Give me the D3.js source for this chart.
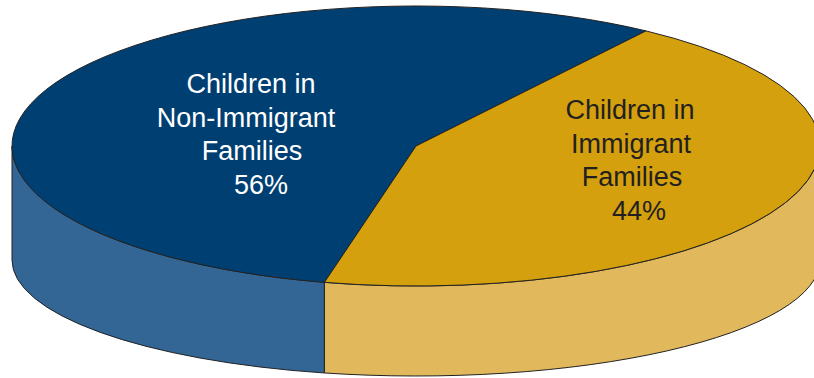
<!DOCTYPE html>
<html>
<head>
<meta charset="utf-8">
<script src="https://cdn.jsdelivr.net/npm/d3@7"></script>
<style>
  html, body { margin: 0; padding: 0; background: #fff; }
  svg { display: block; }
  text { font-family: "Liberation Sans", Arial, sans-serif; }
</style>
</head>
<body>
<svg id="chart" width="814" height="378"></svg>
<script>
// ---- data ----
const categories = ["Children in Non-Immigrant Families", "Children in Immigrant Families"];
const values = [56, 44];
const labelLines = [
  ["Children in", "Non-Immigrant", "Families", "56%"],
  ["Children in", "Immigrant", "Families", "44%"]
];
const topColors = ["#003F72", "#D4A00E"];
const sideColors = ["#336695", "#E2B85C"];

// ---- geometry ----
const W = 814, H = 378;
const cx = 416, cy = 146, rx = 404, ry = 140;   // top face
const cy2 = 260, ry2 = 116;                     // bottom face (perspective)
const deg = Math.PI / 180;
const firstSliceEnd = 34.7 * deg;               // boundary on the right-back

const total = d3.sum(values);
const pie = d3.pie().sort(null)
  .startAngle(firstSliceEnd - values[0] / total * 2 * Math.PI)
  .endAngle(firstSliceEnd - values[0] / total * 2 * Math.PI + 2 * Math.PI);
const arcs = pie(values);

const topPt = a => [cx + rx * Math.sin(a), cy - ry * Math.cos(a)];
const botPt = a => [cx + rx * Math.sin(a), cy2 - ry2 * Math.cos(a)];

const svg = d3.select("#chart");

// side walls (visible front half: d3 angles pi/2 .. 3pi/2, modulo 2pi)
function visibleRanges(a0, a1) {
  const out = [];
  for (let k = -2; k <= 2; k++) {
    const s = Math.max(a0, Math.PI / 2 + k * 2 * Math.PI);
    const e = Math.min(a1, 3 * Math.PI / 2 + k * 2 * Math.PI);
    if (e > s) out.push([s, e]);
  }
  return out;
}

const sides = [];
arcs.forEach((d, i) => {
  visibleRanges(d.startAngle, d.endAngle).forEach(r => sides.push({ i, s: r[0], e: r[1] }));
});

svg.append("g").selectAll("path").data(sides).join("path")
  .attr("d", d => {
    const p0 = topPt(d.s), p1 = topPt(d.e), b1 = botPt(d.e), b0 = botPt(d.s);
    return `M${p0[0]},${p0[1]} A${rx},${ry} 0 0 1 ${p1[0]},${p1[1]} L${b1[0]},${b1[1]} A${rx},${ry2} 0 0 0 ${b0[0]},${b0[1]} Z`;
  })
  .attr("fill", d => sideColors[d.i])
  .attr("stroke", "#222")
  .attr("stroke-width", 1)
  .attr("stroke-linejoin", "round");

// top face slices
svg.append("g").selectAll("path").data(arcs).join("path")
  .attr("d", d => {
    const p0 = topPt(d.startAngle), p1 = topPt(d.endAngle);
    const large = (d.endAngle - d.startAngle) > Math.PI ? 1 : 0;
    return `M${cx},${cy} L${p0[0]},${p0[1]} A${rx},${ry} 0 ${large} 1 ${p1[0]},${p1[1]} Z`;
  })
  .attr("fill", (d, i) => topColors[i])
  .attr("stroke", "#222")
  .attr("stroke-width", 1)
  .attr("stroke-linejoin", "round");

// labels
const labelLayout = [
  { x: 251, y: 93, fill: "#ffffff", dx: [0, -5, 1, 10] },
  { x: 631, y: 119, fill: "#231F20", dx: [-1, 0, 1, 8] }
];
const lineH = 33.6;
labelLines.forEach((lines, i) => {
  const L = labelLayout[i];
  const t = svg.append("text")
    .attr("text-anchor", "middle")
    .attr("font-size", 27)
    .attr("fill", L.fill);
  lines.forEach((ln, j) => {
    t.append("tspan")
      .attr("x", L.x + L.dx[j])
      .attr("y", L.y + j * lineH)
      .text(ln);
  });
});
</script>
</body>
</html>
